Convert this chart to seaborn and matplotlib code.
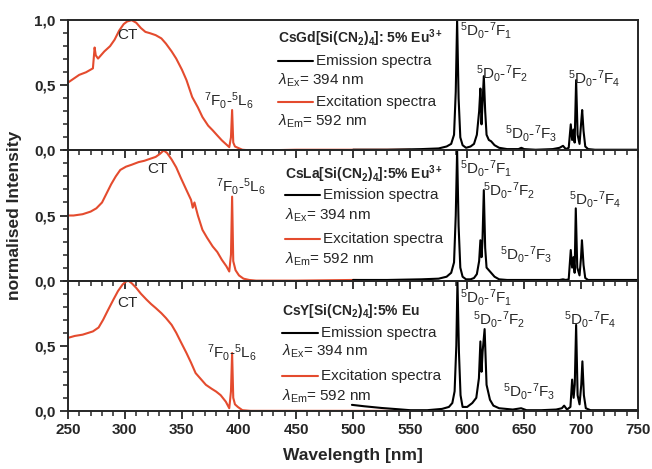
import matplotlib
matplotlib.use("Agg")
import matplotlib.pyplot as plt
from matplotlib.lines import Line2D
from matplotlib.ticker import MultipleLocator, FixedLocator, FuncFormatter
import seaborn as sns

# ---------------- data ----------------
x_ticks = [250, 300, 350, 400, 450, 500, 550, 600, 650, 700, 750]

compounds = ["CsGd[Si(CN$_\\mathbf{2}$)$_\\mathbf{4}$]: 5% Eu$^\\mathbf{3+}$",
             "CsLa[Si(CN$_\\mathbf{2}$)$_\\mathbf{4}$]:5% Eu$^\\mathbf{3+}$",
             "CsY[Si(CN$_\\mathbf{2}$)$_\\mathbf{4}$]:5% Eu"]

# excitation spectra (lambda_em = 592 nm)
exc_x_gd = [250, 255, 260, 266, 272, 273.5, 274.5, 276.5, 278, 282, 287, 291, 295, 299, 302, 306,
            310, 314, 318, 322, 327, 332, 336, 341, 345, 350, 354, 359, 364, 368, 373, 377, 381,
            385, 389, 391.5, 393, 394, 395, 396.5, 399, 403, 410, 420, 450, 480, 500, 520, 550]
exc_y_gd = [0.52, 0.55, 0.58, 0.60, 0.63, 0.79, 0.73, 0.705, 0.72, 0.76, 0.80, 0.85, 0.92, 0.97, 0.99, 1.0,
            0.98, 0.94, 0.91, 0.90, 0.885, 0.86, 0.82, 0.76, 0.705, 0.62, 0.54, 0.41, 0.33, 0.256, 0.19, 0.154, 0.115,
            0.077, 0.045, 0.025, 0.10, 0.31, 0.06, 0.03, 0.02, 0.005, 0.0, 0.0, 0.005, 0.005, 0.005, 0.005, 0.005]

exc_x_la = [250, 255, 263, 270, 275, 280, 284, 288, 292, 296, 301, 306, 312, 317, 322, 327, 331, 334,
            337, 341, 345, 349, 354, 358, 359.5, 361, 364, 368, 372, 377, 381, 385, 389, 391.5, 393,
            394, 395, 397, 400, 404, 409, 415, 450, 500, 550]
exc_y_la = [0.50, 0.50, 0.51, 0.53, 0.555, 0.60, 0.67, 0.74, 0.80, 0.85, 0.875, 0.89, 0.91, 0.92, 0.935, 0.95, 0.975, 1.0,
            0.98, 0.93, 0.87, 0.79, 0.695, 0.62, 0.56, 0.60, 0.50, 0.39, 0.33, 0.262, 0.22, 0.16, 0.11, 0.07, 0.20,
            0.645, 0.15, 0.08, 0.04, 0.015, 0.005, 0.0, 0.0, 0.005, 0.0]

exc_x_y = [250, 256, 263, 272, 277, 281, 285, 290, 294, 298, 300.5, 303, 306, 310, 314, 319, 323, 327,
           332, 336, 341, 345, 349, 354, 358, 362, 367, 371, 376, 380, 384, 388.5, 391.5, 393, 394, 395,
           396.5, 399, 403, 410, 450, 500, 550]
exc_y_y = [0.56, 0.575, 0.585, 0.61, 0.64, 0.70, 0.77, 0.855, 0.92, 0.97, 0.99, 1.0, 0.98, 0.944, 0.90, 0.854, 0.82, 0.79,
           0.75, 0.713, 0.66, 0.60, 0.53, 0.444, 0.37, 0.29, 0.24, 0.20, 0.17, 0.148, 0.12, 0.07, 0.02, 0.15, 0.444, 0.10,
           0.05, 0.03, 0.005, 0.0, 0.0, 0.0, 0.0]

# emission spectra (lambda_ex = 394 nm)
em_x_gd = [500, 530, 560, 575, 582, 586, 588.5, 590, 591.2, 592.5, 594, 596, 599, 603, 606, 608.5, 610.5,
           611.6, 612.6, 613.4, 614.6, 615.8, 617, 619, 621, 624, 628, 635, 645, 647.5, 650, 660, 675,
           681, 684, 686.5, 689, 690.8, 692, 693.2, 694.2, 695.5, 696.8, 698.5, 699.8, 700.8, 702, 703.5,
           706, 712, 725, 750]
em_y_gd = [0.005, 0.005, 0.01, 0.015, 0.03, 0.05, 0.12, 0.45, 1.0, 0.40, 0.10, 0.04, 0.02, 0.03, 0.05, 0.12, 0.30,
           0.475, 0.20, 0.35, 0.57, 0.30, 0.12, 0.08, 0.07, 0.04, 0.02, 0.01, 0.01, 0.02, 0.01, 0.005, 0.01,
           0.02, 0.035, 0.01, 0.02, 0.20, 0.08, 0.16, 0.06, 0.54, 0.12, 0.05, 0.20, 0.31, 0.15, 0.03,
           0.01, 0.005, 0.005, 0.005]

em_x_la = [500, 530, 560, 575, 582, 586, 588.5, 590, 591.2, 592.5, 594, 596, 599, 603, 606, 608.5, 610.5,
           611.6, 612.6, 613.4, 614.6, 615.8, 617, 619, 621, 624, 628, 635, 645, 650, 660, 675,
           681, 684, 686.5, 689, 690.8, 692, 693.2, 694.2, 695.2, 696.5, 698.5, 699.8, 700.6, 702, 703.5,
           706, 712, 725, 750]
em_y_la = [0.005, 0.005, 0.01, 0.015, 0.03, 0.06, 0.14, 0.5, 1.0, 0.42, 0.10, 0.03, 0.01, 0.01, 0.02, 0.05, 0.15,
           0.31, 0.18, 0.30, 0.695, 0.25, 0.10, 0.08, 0.06, 0.03, 0.01, 0.005, 0.005, 0.005, 0.005, 0.005,
           0.005, 0.01, 0.005, 0.01, 0.235, 0.10, 0.18, 0.06, 0.555, 0.10, 0.04, 0.18, 0.31, 0.12, 0.02,
           0.005, 0.005, 0.005, 0.005]

em_x_y = [499, 510, 525, 540, 550, 565, 578, 584, 587, 589, 590.5, 591.5, 592.8, 594.2, 596, 600, 604.5,
          608, 610.3, 611.6, 612.6, 613.5, 615.3, 617, 620, 623, 628, 640, 647.3, 652, 665, 678, 683, 685,
          687.5, 690.5, 692, 693.3, 694.3, 695.5, 696.8, 698.5, 700, 701, 702.3, 704, 708, 720, 750]
em_y_y = [0.046, 0.035, 0.022, 0.012, 0.005, 0.005, 0.015, 0.03, 0.06, 0.15, 0.5, 1.0, 0.45, 0.12, 0.03, 0.03, 0.06,
          0.10, 0.25, 0.533, 0.30, 0.45, 0.628, 0.20, 0.085, 0.04, 0.02, 0.01, 0.02, 0.005, 0.005, 0.01, 0.02, 0.04,
          0.01, 0.03, 0.24, 0.10, 0.20, 0.66, 0.12, 0.05, 0.20, 0.38, 0.12, 0.02, 0.005, 0.005, 0.005]

exc_x = [exc_x_gd, exc_x_la, exc_x_y]
exc_y = [exc_y_gd, exc_y_la, exc_y_y]
em_x = [em_x_gd, em_x_la, em_x_y]
em_y = [em_y_gd, em_y_la, em_y_y]

# ---------------- styling ----------------
sns.set_style("ticks")
plt.rcParams["font.family"] = ["Liberation Sans", "DejaVu Sans"]
plt.rcParams["mathtext.fontset"] = "custom"
plt.rcParams["mathtext.rm"] = "Liberation Sans"
plt.rcParams["mathtext.it"] = "Liberation Sans:italic"
plt.rcParams["mathtext.bf"] = "Liberation Sans:bold"

RED = "#e44b2e"
BLACK = "#000000"
FS = 11

fig, axes = plt.subplots(3, 1, figsize=(6.52, 4.69), dpi=100, sharex=True)
fig.subplots_adjust(left=0.104, right=0.979, top=0.957, bottom=0.124, hspace=0)

F = lambda a, b: r"$^{%s}$D$_{0}$-$^{7}$F$_{%s}$" % (a, b)
L6 = r"$^{7}$F$_{0}$-$^{5}$L$_{6}$"

# per-panel annotation positions (data coords)
ct_pos = [(302.5, 0.885), (328.8, 0.86), (302.6, 0.83)]
l6_pos = [(391, 0.38), (402, 0.72), (394, 0.45)]
f1_pos = [(593.5, 0.92), (593.5, 0.86), (593.5, 0.867)]
f2_pos = [(608, 0.59), (614, 0.695), (605.2, 0.70)]
f3_pos = [(632.8, 0.13), (628.4, 0.20), (631.3, 0.15)]
f4_pos = [(688, 0.55), (689.5, 0.62), (685.1, 0.70)]
# legend block: (left of key line, right of key line, title y, emission key y, lambda_ex y, excitation key y, lambda_em y)
leg = [(0.368, 0.430, 0.86, 0.69, 0.54, 0.37, 0.22),
       (0.381, 0.442, 0.82, 0.656, 0.50, 0.32, 0.166),
       (0.375, 0.439, 0.764, 0.60, 0.456, 0.27, 0.115)]

comma = FuncFormatter(lambda v, p: f"{v:.1f}".replace(".", ","))

for i, ax in enumerate(axes):
    ax.patch.set_visible(False)
    sns.lineplot(x=exc_x[i], y=exc_y[i], ax=ax, color=RED, lw=1.5, estimator=None, sort=False)
    sns.lineplot(x=em_x[i], y=em_y[i], ax=ax, color=BLACK, lw=1.5, estimator=None, sort=False)
    ax.set_xlim(250, 750)
    ax.set_ylim(0, 1.0)
    ax.xaxis.set_major_locator(FixedLocator(x_ticks))
    ax.xaxis.set_minor_locator(MultipleLocator(10))
    ax.yaxis.set_major_locator(FixedLocator([0, 0.5, 1.0] if i == 0 else [0, 0.5]))
    ax.yaxis.set_minor_locator(MultipleLocator(0.1))
    ax.yaxis.set_major_formatter(comma)
    ax.tick_params(which="major", direction="out", length=6, width=1.3, labelsize=FS, pad=3)
    ax.tick_params(which="minor", direction="out", length=3.5, width=1.1)
    ax.tick_params(top=False, right=False)
    for lab in ax.get_yticklabels() + ax.get_xticklabels():
        lab.set_fontweight("bold")
    for s in ax.spines.values():
        s.set_linewidth(1.4)
        s.set_visible(True)
    ax.set_ylabel("")

    ax.text(*ct_pos[i], "CT", fontsize=FS, ha="center", va="center")
    ax.text(*l6_pos[i], L6, fontsize=FS, ha="center", va="center")
    for pos, lab in zip([f1_pos, f2_pos, f3_pos, f4_pos], [F(5, 1), F(5, 2), F(5, 3), F(5, 4)]):
        ax.text(*pos[i], lab, fontsize=FS, ha="left", va="center")

    x0, x1, yt, ye, yx, yr, ym = leg[i]
    ax.text(x0, yt, compounds[i], transform=ax.transAxes, fontsize=10, fontweight="bold",
            ha="left", va="center")
    ax.add_line(Line2D([x0, x1], [ye, ye], transform=ax.transAxes, color=BLACK, lw=1.5))
    ax.text(x1 + 0.005, ye, "Emission spectra", transform=ax.transAxes, fontsize=FS, ha="left", va="center")
    ax.text(x0, yx, r"$\lambda_{\rm Ex}$= 394 nm", transform=ax.transAxes, fontsize=FS, ha="left", va="center")
    ax.add_line(Line2D([x0, x1], [yr, yr], transform=ax.transAxes, color=RED, lw=1.5))
    ax.text(x1 + 0.005, yr, "Excitation spectra", transform=ax.transAxes, fontsize=FS, ha="left", va="center")
    ax.text(x0, ym, r"$\lambda_{\rm Em}$= 592 nm", transform=ax.transAxes, fontsize=FS, ha="left", va="center")

axes[2].set_xlabel("Wavelength [nm]", fontsize=12.5, fontweight="bold", labelpad=8)
fig.text(0.023, 0.54, "normalised Intensity", rotation=90, fontsize=12.5, fontweight="bold",
         ha="center", va="center")

fig.savefig("out.png", dpi=100)
